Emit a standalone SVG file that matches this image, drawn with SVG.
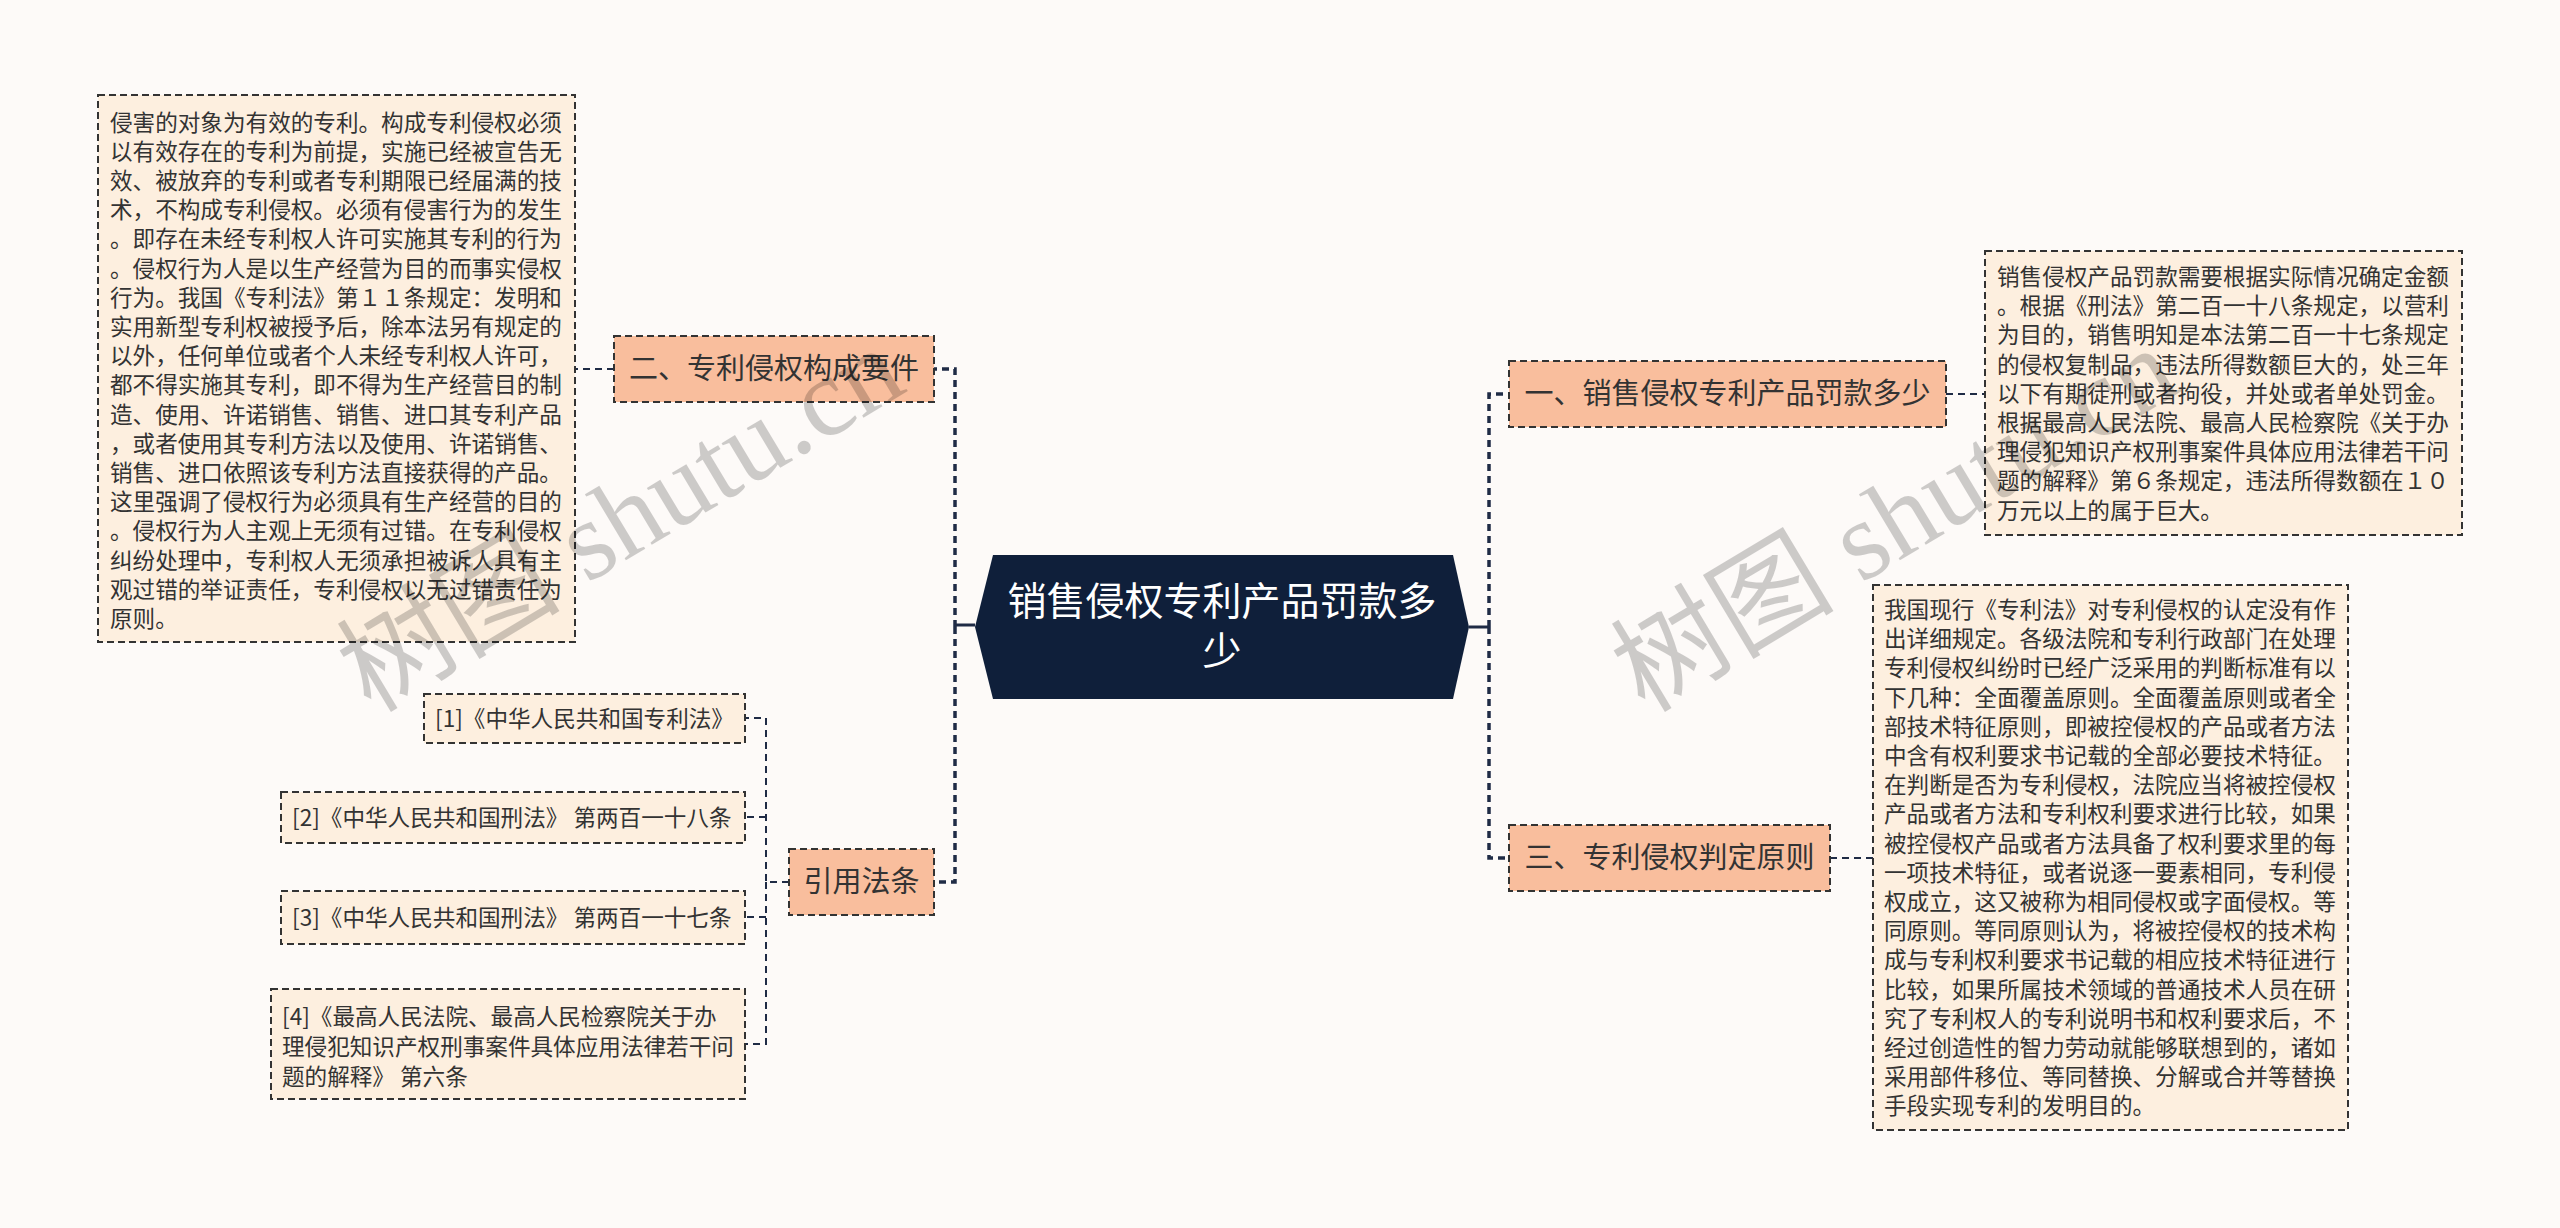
<svg xmlns="http://www.w3.org/2000/svg" width="2560" height="1228" viewBox="0 0 2560 1228">
<style>
.bg{fill:#FDFAF8}
.box{fill:#FDEFDF;stroke:#333;stroke-width:2;stroke-dasharray:7 4}
.node{fill:#F9BE9D;stroke:#333;stroke-width:2;stroke-dasharray:7 4}
.t{font-family:"Noto Sans CJK SC","Noto Sans",sans-serif;fill:#333}
.s{font-size:22.6px}
.n{font-size:29px;text-anchor:middle}
.c{font-family:"Noto Sans CJK SC","Noto Sans",sans-serif;fill:#fff;font-size:39px;text-anchor:middle}
.lk{fill:none;stroke:#1F2B45;stroke-dasharray:7 5}
.lk1{stroke-width:3.5}
.lk2{stroke-width:2}
.solid{fill:none;stroke:#1F2B45;stroke-width:3}
.wm{font-family:"Liberation Serif","Noto Sans CJK SC",serif;font-size:112px;fill:#000;opacity:0.19;text-anchor:middle}
</style>
<rect class="bg" x="0" y="0" width="2560" height="1228"/>
<g id="connectors">
<path class="solid" d="M975 625 H955"/>
<path class="solid" d="M1469 627 H1489"/>
<path class="lk lk1" d="M955 627 V369 H934"/>
<path class="lk lk1" d="M955 627 V882 H934"/>
<path class="lk lk1" d="M1489 627 V394 H1509"/>
<path class="lk lk1" d="M1489 627 V858 H1509"/>
<path class="lk lk2" d="M614 369 H575"/>
<path class="lk lk2" d="M1946 394 H1985"/>
<path class="lk lk2" d="M1830 858 H1873"/>
<path class="lk lk2" d="M789 882 H766 V718 H745"/>
<path class="lk lk2" d="M766 882 V1044 H745"/>
<path class="lk lk2" d="M766 817 H745"/>
<path class="lk lk2" d="M766 917 H745"/>
</g>
<g id="center">
<polygon points="993,555 1453,555 1469,627 1453,699 993,699 975,627" fill="#0F1F3A"/>
<text class="c" x="1222" y="615">销售侵权专利产品罚款多</text>
<text class="c" x="1222" y="665">少</text>
</g>
<g id="node-er">
<rect class="node" x="614" y="336" width="320" height="66"/>
<text class="t n" x="774" y="379">二、专利侵权构成要件</text>
</g>
<g id="node-yinyong">
<rect class="node" x="789" y="849" width="145" height="66"/>
<text class="t n" x="861.5" y="892">引用法条</text>
</g>
<g id="node-yi">
<rect class="node" x="1509" y="361" width="437" height="66"/>
<text class="t n" x="1727.5" y="404">一、销售侵权专利产品罚款多少</text>
</g>
<g id="node-san">
<rect class="node" x="1509" y="825" width="321" height="66"/>
<text class="t n" x="1669.5" y="868">三、专利侵权判定原则</text>
</g>
<g id="box-left">
<rect class="box" x="98" y="95" width="477" height="547"/>
<text class="t s">
<tspan x="110" y="130.5">侵害的对象为有效的专利。构成专利侵权必须</tspan>
<tspan x="110" y="159.7">以有效存在的专利为前提，实施已经被宣告无</tspan>
<tspan x="110" y="188.9">效、被放弃的专利或者专利期限已经届满的技</tspan>
<tspan x="110" y="218.1">术，不构成专利侵权。必须有侵害行为的发生</tspan>
<tspan x="110" y="247.3">。即存在未经专利权人许可实施其专利的行为</tspan>
<tspan x="110" y="276.5">。侵权行为人是以生产经营为目的而事实侵权</tspan>
<tspan x="110" y="305.7">行为。我国《专利法》第１１条规定：发明和</tspan>
<tspan x="110" y="334.9">实用新型专利权被授予后，除本法另有规定的</tspan>
<tspan x="110" y="364.1">以外，任何单位或者个人未经专利权人许可，</tspan>
<tspan x="110" y="393.3">都不得实施其专利，即不得为生产经营目的制</tspan>
<tspan x="110" y="422.5">造、使用、许诺销售、销售、进口其专利产品</tspan>
<tspan x="110" y="451.7">，或者使用其专利方法以及使用、许诺销售、</tspan>
<tspan x="110" y="480.9">销售、进口依照该专利方法直接获得的产品。</tspan>
<tspan x="110" y="510.1">这里强调了侵权行为必须具有生产经营的目的</tspan>
<tspan x="110" y="539.3">。侵权行为人主观上无须有过错。在专利侵权</tspan>
<tspan x="110" y="568.5">纠纷处理中，专利权人无须承担被诉人具有主</tspan>
<tspan x="110" y="597.7">观过错的举证责任，专利侵权以无过错责任为</tspan>
<tspan x="110" y="626.9">原则。</tspan>
</text>
</g>
<g id="box-right1">
<rect class="box" x="1985" y="251" width="477" height="284"/>
<text class="t s">
<tspan x="1997" y="285">销售侵权产品罚款需要根据实际情况确定金额</tspan>
<tspan x="1997" y="314.2">。根据《刑法》第二百一十八条规定，以营利</tspan>
<tspan x="1997" y="343.4">为目的，销售明知是本法第二百一十七条规定</tspan>
<tspan x="1997" y="372.6">的侵权复制品，违法所得数额巨大的，处三年</tspan>
<tspan x="1997" y="401.8">以下有期徒刑或者拘役，并处或者单处罚金。</tspan>
<tspan x="1997" y="431">根据最高人民法院、最高人民检察院《关于办</tspan>
<tspan x="1997" y="460.2">理侵犯知识产权刑事案件具体应用法律若干问</tspan>
<tspan x="1997" y="489.4">题的解释》第６条规定，违法所得数额在１０</tspan>
<tspan x="1997" y="518.6">万元以上的属于巨大。</tspan>
</text>
</g>
<g id="box-right2">
<rect class="box" x="1873" y="585" width="475" height="545"/>
<text class="t s">
<tspan x="1884" y="618">我国现行《专利法》对专利侵权的认定没有作</tspan>
<tspan x="1884" y="647.2">出详细规定。各级法院和专利行政部门在处理</tspan>
<tspan x="1884" y="676.4">专利侵权纠纷时已经广泛采用的判断标准有以</tspan>
<tspan x="1884" y="705.6">下几种：全面覆盖原则。全面覆盖原则或者全</tspan>
<tspan x="1884" y="734.8">部技术特征原则，即被控侵权的产品或者方法</tspan>
<tspan x="1884" y="764">中含有权利要求书记载的全部必要技术特征。</tspan>
<tspan x="1884" y="793.2">在判断是否为专利侵权，法院应当将被控侵权</tspan>
<tspan x="1884" y="822.4">产品或者方法和专利权利要求进行比较，如果</tspan>
<tspan x="1884" y="851.6">被控侵权产品或者方法具备了权利要求里的每</tspan>
<tspan x="1884" y="880.8">一项技术特征，或者说逐一要素相同，专利侵</tspan>
<tspan x="1884" y="910">权成立，这又被称为相同侵权或字面侵权。等</tspan>
<tspan x="1884" y="939.2">同原则。等同原则认为，将被控侵权的技术构</tspan>
<tspan x="1884" y="968.4">成与专利权利要求书记载的相应技术特征进行</tspan>
<tspan x="1884" y="997.6">比较，如果所属技术领域的普通技术人员在研</tspan>
<tspan x="1884" y="1026.8">究了专利权人的专利说明书和权利要求后，不</tspan>
<tspan x="1884" y="1056">经过创造性的智力劳动就能够联想到的，诸如</tspan>
<tspan x="1884" y="1085.2">采用部件移位、等同替换、分解或合并等替换</tspan>
<tspan x="1884" y="1114.4">手段实现专利的发明目的。</tspan>
</text>
</g>
<g id="ref1">
<rect class="box" x="424" y="694" width="321" height="49"/>
<text class="t s" x="435" y="726.5">[1]《中华人民共和国专利法》</text>
</g>
<g id="ref2">
<rect class="box" x="281" y="792" width="464" height="51"/>
<text class="t s" x="292" y="825.5">[2]《中华人民共和国刑法》 第两百一十八条</text>
</g>
<g id="ref3">
<rect class="box" x="281" y="891" width="464" height="53"/>
<text class="t s" x="292" y="925.5">[3]《中华人民共和国刑法》 第两百一十七条</text>
</g>
<g id="ref4">
<rect class="box" x="271" y="989" width="474" height="110"/>
<text class="t s">
<tspan x="282" y="1025">[4]《最高人民法院、最高人民检察院关于办</tspan>
<tspan x="282" y="1055">理侵犯知识产权刑事案件具体应用法律若干问</tspan>
<tspan x="282" y="1085">题的解释》 第六条</tspan>
</text>
</g>
<g id="watermarks">
<text class="wm" transform="translate(640,552) rotate(-31)">树图 shutu.cn</text>
<text class="wm" transform="translate(1914,552) rotate(-31)">树图 shutu.cn</text>
</g>
</svg>
